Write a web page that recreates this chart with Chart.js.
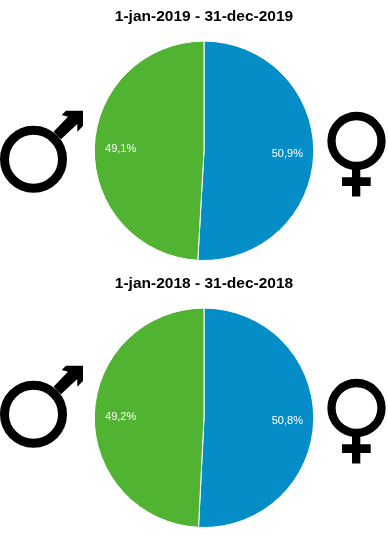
<!DOCTYPE html>
<html>
<head>
<meta charset="utf-8">
<script src="https://cdn.jsdelivr.net/npm/chart.js@4"></script>
<style>
  html, body { margin: 0; padding: 0; background: #fff; }
  .box { position: absolute; left: 0; width: 388px; height: 267px; }
  svg { position: absolute; overflow: visible; }
</style>
</head>
<body>
<div class="box" style="top:0"><canvas id="pie2019" width="388" height="267"></canvas></div>
<div class="box" style="top:267px"><canvas id="pie2018" width="388" height="267"></canvas></div>

<!-- gender symbols -->
<svg style="left:0;top:0" width="388" height="549">
  <defs>
    <g id="male">
      <circle cx="33.5" cy="159.3" r="29" fill="none" stroke="#000" stroke-width="9"/>
      <path d="M53.5 131.7 L68 116.7 L61.7 115 L66 110.7 L83 110.7 L83 126 L77.3 131.7 L77.3 124 L61 139.3 Z" fill="#000"/>
    </g>
    <g id="female">
      <circle cx="356.5" cy="141" r="25" fill="none" stroke="#000" stroke-width="8.3"/>
      <path d="M352 168 H360.3 V177.3 H370.7 V186 H360.3 V196.5 H352 V186 H342 V177.3 H352 Z" fill="#000"/>
    </g>
  </defs>
  <use href="#male"/>
  <use href="#female"/>
  <use href="#male" y="255"/>
  <use href="#female" y="267"/>
</svg>

<script>
const categories = ['Kvinnor', 'Män'];
const titles = ['1-jan-2019 - 31-dec-2019', '1-jan-2018 - 31-dec-2018'];
const values2019 = [50.9, 49.1];
const values2018 = [50.8, 49.2];
const colors = ['#058dc7', '#50b432'];

const pctLabels = {
  id: 'pctLabels',
  afterDatasetsDraw(chart) {
    const ctx = chart.ctx;
    const meta = chart.getDatasetMeta(0);
    ctx.save();
    ctx.font = '11px "Liberation Sans", Arial, sans-serif';
    ctx.fillStyle = '#fff';
    ctx.textAlign = 'center';
    ctx.textBaseline = 'middle';
    meta.data.forEach((arc, i) => {
      const mid = (arc.startAngle + arc.endAngle) / 2;
      const r = arc.outerRadius * 0.76;
      const text = chart.data.datasets[0].data[i].toFixed(1).replace('.', ',') + '%';
      ctx.fillText(text, arc.x + Math.cos(mid) * r, arc.y + Math.sin(mid) * r + 1);
    });
    ctx.restore();
  }
};

function makePie(id, title, values) {
  new Chart(document.getElementById(id), {
    type: 'pie',
    plugins: [pctLabels],
    data: {
      labels: categories,
      datasets: [{
        data: values,
        backgroundColor: colors,
        borderColor: '#fff',
        borderWidth: 1
      }]
    },
    options: {
      responsive: false,
      animation: false,
      layout: { padding: { left: 20, top: 7, bottom: 6 } },
      plugins: {
        legend: { display: false },
        tooltip: { enabled: false },
        title: {
          display: true,
          text: title,
          color: '#000',
          font: { family: '"Liberation Sans", Arial, sans-serif', size: 15.5, weight: 'bold' },
          padding: { top: 0, bottom: 15 }
        }
      }
    }
  });
}

makePie('pie2019', titles[0], values2019);
makePie('pie2018', titles[1], values2018);
</script>
</body>
</html>
